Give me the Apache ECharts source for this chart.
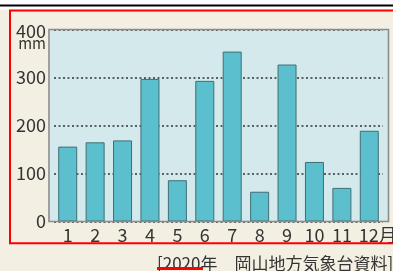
<!DOCTYPE html>
<html>
<head>
<meta charset="utf-8">
<script src="https://cdn.jsdelivr.net/npm/echarts@6/dist/echarts.min.js"></script>
<style>
html,body{margin:0;padding:0;background:#f3efe2;}
#chart{width:393px;height:271px;}
</style>
</head>
<body>
<div id="chart"></div>
<script>
// 岡山 月別降水量 2020年
var months = ['1', '2', '3', '4', '5', '6', '7', '8', '9', '10', '11', '12'];
var rain = [156, 165, 169, 297, 86, 293, 354, 62, 327, 124, 70, 189];
var yTicks = [0, 100, 200, 300, 400];
var source = '[2020年　岡山地方気象台資料]';

var font = '"Noto Sans CJK JP", "Noto Sans", sans-serif';
var myChart = echarts.init(document.getElementById('chart'));
var option = {
    backgroundColor: '#f3efe2',
    animation: false,
    grid: {
        left: 54,
        right: 10,
        top: 29.5,
        bottom: 49.5,
        outerBoundsMode: 'none',
        containLabel: false
    },
    xAxis: {
        type: 'category',
        data: months,
        axisLine: {show: false},
        axisTick: {show: false},
        axisLabel: {
            interval: 0,
            color: '#333',
            fontSize: 18,
            fontFamily: font,
            margin: 5,
            formatter: function (v) {
                if (v == '12') return '{p|}{n|12}{u|月}';
                return v;
            },
            rich: {
                p: {width: 17, fontSize: 18},
                n: {fontSize: 18, color: '#333', fontFamily: font},
                u: {fontSize: 18, color: '#333', fontFamily: font}
            }
        }
    },
    yAxis: {
        type: 'value',
        min: yTicks[0],
        max: yTicks[yTicks.length - 1],
        interval: 100,
        axisLine: {show: false},
        axisTick: {show: false},
        splitLine: {
            lineStyle: {type: [2, 2.5], color: '#333', width: 1.5}
        },
        axisLabel: {
            color: '#333',
            fontSize: 18,
            fontFamily: font,
            margin: 8,
            formatter: function (v) {
                if (v == 400) return '{s| }\n{a|400}\n{m|mm}';
                return v;
            },
            rich: {
                s: {lineHeight: 14, fontSize: 10},
                a: {lineHeight: 14, fontSize: 18, color: '#333', fontFamily: font},
                m: {lineHeight: 10, fontSize: 15, color: '#333', fontFamily: font}
            }
        }
    },
    series: [{
        type: 'bar',
        data: rain,
        barWidth: 19,
        z: 5,
        itemStyle: {
            color: '#5cbfcd',
            borderColor: '#3f6f76',
            borderWidth: 1
        }
    }],
    graphic: [
        {type: 'rect', z: -10, shape: {x: 0, y: 0, width: 393, height: 9.5}, style: {fill: '#ffffff'}},
        {type: 'rect', z: -5, shape: {x: 49, y: 29.5, width: 339.5, height: 192}, style: {fill: '#d3e9eb'}},
        {type: 'rect', z: 100, shape: {x: 49, y: 29.5, width: 339.5, height: 192}, style: {fill: null, stroke: '#8c8c8c', lineWidth: 1.6}},
        {type: 'rect', z: 100, shape: {x: 0, y: 4.5, width: 393, height: 2}, style: {fill: '#000'}},
        {type: 'rect', z: 100, shape: {x: 10, y: 10.5, width: 390, height: 232.7}, style: {fill: null, stroke: '#ff0000', lineWidth: 2}},
        {
            type: 'text', z: 100, left: 157, top: 255,
            style: {text: source, fill: '#333', fontSize: 17, fontFamily: font}
        },
        {type: 'rect', z: 101, shape: {x: 157, y: 267, width: 46, height: 3}, style: {fill: '#ff0000'}}
    ]
};
myChart.setOption(option);
</script>
</body>
</html>
